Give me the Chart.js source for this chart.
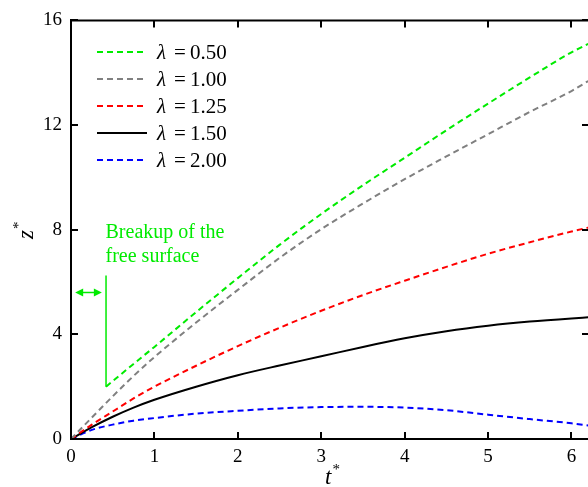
<!DOCTYPE html>
<html>
<head>
<meta charset="utf-8">
<script src="https://cdn.jsdelivr.net/npm/chart.js@4.4.1/dist/chart.umd.min.js"></script>
<style>
  html, body { margin: 0; padding: 0; background: #fff; overflow: hidden; }
  #wrap { width: 600px; height: 487px; }
</style>
</head>
<body>
<div id="wrap"><canvas id="graph01" width="600" height="487"></canvas></div>
<script>
const graph01 = document.getElementById("graph01");

const lambdas = ["0.50", "1.00", "1.25", "1.50", "2.00"];
const xTicks = [0, 1, 2, 3, 4, 5, 6];
const yTicks = [0, 4, 8, 12, 16];

// green curve only starts after breakup of the free surface
const tGreen = [0.42, 0.75, 1, 1.5, 2, 2.5, 3, 3.5, 4, 4.5, 5, 5.5, 6, 6.2];
const zGreen = [2.0, 2.87, 3.52, 4.85, 6.15, 7.42, 8.6, 9.7, 10.75, 11.8, 12.82, 13.82, 14.78, 15.1];

const tAll = [0, 0.25, 0.5, 0.75, 1, 1.5, 2, 2.5, 3, 3.5, 4, 4.5, 5, 5.5, 6, 6.2];
const zGray = [0, 0.82, 1.63, 2.41, 3.13, 4.45, 5.7, 6.92, 8.02, 9.0, 9.93, 10.8, 11.65, 12.5, 13.3, 13.68];
const zRed = [0, 0.55, 1.05, 1.55, 2.0, 2.8, 3.55, 4.25, 4.9, 5.5, 6.05, 6.58, 7.08, 7.52, 7.93, 8.08];
const zBlack = [0, 0.45, 0.85, 1.2, 1.5, 2.0, 2.44, 2.81, 3.16, 3.52, 3.85, 4.12, 4.33, 4.49, 4.61, 4.65];
const zBlue = [0, 0.35, 0.55, 0.7, 0.8, 0.97, 1.08, 1.17, 1.22, 1.23, 1.2, 1.1, 0.93, 0.76, 0.6, 0.52];

const GREEN = "rgb(0, 235, 0)";
const SERIF = "'Liberation Serif', 'Times New Roman', serif";

function pts(ts, zs) {
  return ts.map((t, i) => ({ x: t, y: zs[i] }));
}

function series(i, ts, zs, color, dash) {
  return {
    label: "λ = " + lambdas[i],
    data: pts(ts, zs),
    borderColor: color,
    backgroundColor: color,
    borderWidth: 2,
    borderDash: dash,
    pointRadius: 0,
    tension: 0.4,
    cubicInterpolationMode: "monotone",
    fill: false,
  };
}

// legend, frame ticks, axis titles and the breakup note
const extras = {
  id: "extras",
  afterDraw(chart) {
    const { ctx, chartArea: a } = chart;
    const x = chart.scales.x;
    const y = chart.scales.y;
    ctx.save();

    // top + right frame lines
    ctx.strokeStyle = "#000";
    ctx.lineWidth = 2;
    ctx.beginPath();
    ctx.moveTo(a.left, a.top);
    ctx.lineTo(a.right, a.top);
    ctx.lineTo(a.right, a.bottom);
    ctx.stroke();

    // inward ticks on all sides
    const tl = 7;
    ctx.beginPath();
    xTicks.forEach((v) => {
      const px = Math.round(x.getPixelForValue(v));
      ctx.moveTo(px, a.bottom);
      ctx.lineTo(px, a.bottom - tl);
      ctx.moveTo(px, a.top);
      ctx.lineTo(px, a.top + tl);
    });
    yTicks.forEach((v) => {
      const py = Math.round(y.getPixelForValue(v));
      ctx.moveTo(a.left, py);
      ctx.lineTo(a.left + tl, py);
      ctx.moveTo(a.right, py);
      ctx.lineTo(a.right - tl, py);
    });
    ctx.stroke();

    // legend
    chart.data.datasets.forEach((ds, i) => {
      const ly = 52 + i * 27;
      ctx.strokeStyle = ds.borderColor;
      ctx.lineWidth = 2;
      ctx.setLineDash(ds.borderDash || []);
      ctx.beginPath();
      ctx.moveTo(97, ly);
      ctx.lineTo(147, ly);
      ctx.stroke();
      ctx.setLineDash([]);
      ctx.fillStyle = "#000";
      ctx.textBaseline = "alphabetic";
      ctx.textAlign = "left";
      ctx.font = "italic 21px " + SERIF;
      ctx.fillText("λ", 157, ly + 7);
      ctx.font = "21px " + SERIF;
      ctx.fillText("=", 174, ly + 7);
      ctx.fillText(lambdas[i], 190, ly + 7);
    });

    // axis titles with superscript star
    ctx.fillStyle = "#000";
    ctx.font = "italic 23px " + SERIF;
    ctx.fillText("t", 325, 484);
    const tw = ctx.measureText("t").width;
    ctx.font = "15px " + SERIF;
    ctx.fillText("*", 325 + tw + 1, 474);

    ctx.save();
    ctx.translate(33, 239);
    ctx.rotate(-Math.PI / 2);
    ctx.font = "italic 23px " + SERIF;
    ctx.fillText("z", 0, 0);
    const zw = ctx.measureText("z").width;
    ctx.font = "15px " + SERIF;
    ctx.fillText("*", zw + 1, -10);
    ctx.restore();

    // breakup note
    const bx = x.getPixelForValue(0.42);
    ctx.strokeStyle = GREEN;
    ctx.fillStyle = GREEN;
    ctx.lineWidth = 1.5;
    ctx.beginPath();
    ctx.moveTo(bx, y.getPixelForValue(zGreen[0]));
    ctx.lineTo(bx, y.getPixelForValue(6.25));
    ctx.stroke();

    const ay = y.getPixelForValue(5.6);
    const ax0 = x.getPixelForValue(0.05);
    const ax1 = x.getPixelForValue(0.37);
    ctx.beginPath();
    ctx.moveTo(ax0 + 4, ay);
    ctx.lineTo(ax1 - 4, ay);
    ctx.stroke();
    ctx.beginPath();
    ctx.moveTo(ax0, ay);
    ctx.lineTo(ax0 + 8, ay - 4);
    ctx.lineTo(ax0 + 8, ay + 4);
    ctx.closePath();
    ctx.moveTo(ax1, ay);
    ctx.lineTo(ax1 - 8, ay - 4);
    ctx.lineTo(ax1 - 8, ay + 4);
    ctx.closePath();
    ctx.fill();

    ctx.font = "20px " + SERIF;
    ctx.fillText("Breakup of the", bx - 0.5, y.getPixelForValue(7.7));
    ctx.fillText("free surface", bx - 0.5, y.getPixelForValue(6.75));

    ctx.restore();
  },
};

const myChart01 = new Chart(graph01, {
  type: "line",
  data: {
    datasets: [
      series(0, tGreen, zGreen, GREEN, [6, 4]),
      series(1, tAll, zGray, "#808080", [6, 4]),
      series(2, tAll, zRed, "#ff0000", [6, 4]),
      series(3, tAll, zBlack, "#000000", []),
      series(4, tAll, zBlue, "#0000ff", [6, 4]),
    ],
  },
  options: {
    responsive: false,
    animation: false,
    layout: {
      padding: { top: 19, right: 11, left: 0, bottom: 0 },
    },
    plugins: {
      legend: { display: false },
      tooltip: { enabled: false },
    },
    scales: {
      x: {
        type: "linear",
        min: 0,
        max: 6.21,
        afterFit: (s) => { s.height = 48; },
        ticks: {
          stepSize: 1,
          includeBounds: false,
          padding: 7,
          color: "#000",
          font: { family: SERIF, size: 19 },
        },
        grid: { display: false, drawTicks: false },
        border: { display: true, color: "#000", width: 2 },
      },
      y: {
        type: "linear",
        min: 0,
        max: 16,
        afterFit: (s) => { s.width = 71; },
        ticks: {
          stepSize: 4,
          padding: 9,
          color: "#000",
          font: { family: SERIF, size: 19 },
        },
        grid: { display: false, drawTicks: false },
        border: { display: true, color: "#000", width: 2 },
      },
    },
  },
  plugins: [extras],
});
</script>
</body>
</html>
